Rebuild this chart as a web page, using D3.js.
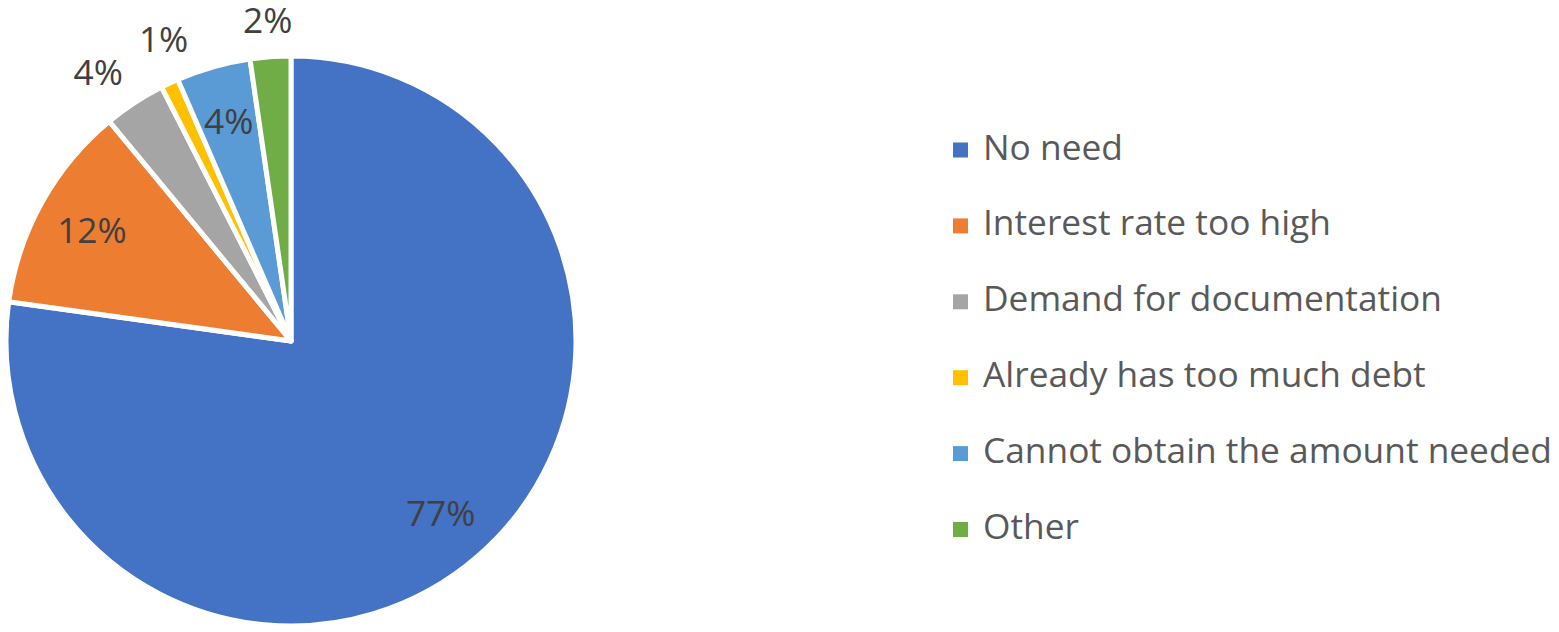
<!DOCTYPE html>
<html>
<head>
<meta charset="utf-8">
<script src="https://cdn.jsdelivr.net/npm/d3@7"></script>
<style>
  html, body { margin: 0; padding: 0; background: #fff; }
  svg { display: block; }
  text { font-family: "Open Sans", "Noto Sans", sans-serif; }
</style>
</head>
<body>
<svg id="chart" width="1559" height="632"></svg>
<script>
const categories = ["No need", "Interest rate too high", "Demand for documentation",
  "Already has too much debt", "Cannot obtain the amount needed", "Other"];
const values = [77.2, 11.8, 3.5, 1.0, 4.2, 2.3];
const labels = ["77%", "12%", "4%", "1%", "4%", "2%"];
const colors = ["#4472C4", "#ED7D31", "#A5A5A5", "#FFC000", "#5B9BD5", "#70AD47"];

const svg = d3.select("#chart");
const cx = 291, cy = 341, R = 285;
const fontSize = 35.3;

const data = categories.map((c, i) => ({ name: c, value: values[i], label: labels[i], color: colors[i] }));

const pie = d3.pie().value(d => d.value).sort(null);
const arcs = pie(data);
const arc = d3.arc().innerRadius(0).outerRadius(R);

const g = svg.append("g").attr("transform", `translate(${cx},${cy})`);

g.selectAll("path.slice")
  .data(arcs)
  .join("path")
  .attr("class", "slice")
  .attr("d", arc)
  .attr("fill", d => d.data.color)
  .attr("stroke", "#ffffff")
  .attr("stroke-width", 5)
  .attr("stroke-linejoin", "round");

const inArc = d3.arc().innerRadius(R * 0.8).outerRadius(R * 0.8);

const lbls = g.selectAll("text.lbl")
  .data(arcs)
  .join("text")
  .attr("class", "lbl")
  .attr("text-anchor", "middle")
  .attr("dy", "0.36em")
  .attr("font-size", fontSize)
  .attr("fill", "#404040")
  .text(d => d.data.label);

// outside labels: box placed a fixed gap beyond the rim, with simple collision spreading
const H = fontSize;
const gap = 17;
const outs = [];
lbls.each(function(d) {
  if (d.data.value >= 4) {
    const p = inArc.centroid(d);
    d.lx = p[0]; d.ly = p[1];
  } else {
    d.w = this.getComputedTextLength();
    d.a = (d.startAngle + d.endAngle) / 2;
    outs.push(d);
  }
});
function place(d) {
  const s = Math.abs(Math.sin(d.a)), c = Math.abs(Math.cos(d.a));
  const dist = R + gap + s * d.w / 2 + c * H / 2;
  d.lx = Math.sin(d.a) * dist;
  d.ly = -Math.cos(d.a) * dist;
}
outs.forEach(place);
for (let iter = 0; iter < 400; iter++) {
  let moved = false;
  for (let i = 0; i < outs.length - 1; i++) {
    const a = outs[i], b = outs[i + 1];
    const needX = (a.w + b.w) / 2 + 15;
    if (Math.abs(a.lx - b.lx) < needX && Math.abs(a.ly - b.ly) < H) {
      a.a -= 0.0017; b.a += 0.0017;
      place(a); place(b);
      moved = true;
    }
  }
  if (!moved) break;
}
lbls.attr("transform", d => `translate(${d.lx},${d.ly})`);

const legend = svg.append("g").attr("transform", "translate(953,150)");
const rowH = 75.9;
const items = legend.selectAll("g.item")
  .data(data)
  .join("g")
  .attr("class", "item")
  .attr("transform", (d, i) => `translate(0,${i * rowH})`);

items.append("rect")
  .attr("x", 0).attr("y", -7.5)
  .attr("width", 15).attr("height", 15)
  .attr("fill", d => d.color);

items.append("text")
  .attr("x", 30)
  .attr("y", 9.5)
  .attr("font-size", fontSize)
  .attr("fill", "#595959")
  .text(d => d.name);
</script>
</body>
</html>
